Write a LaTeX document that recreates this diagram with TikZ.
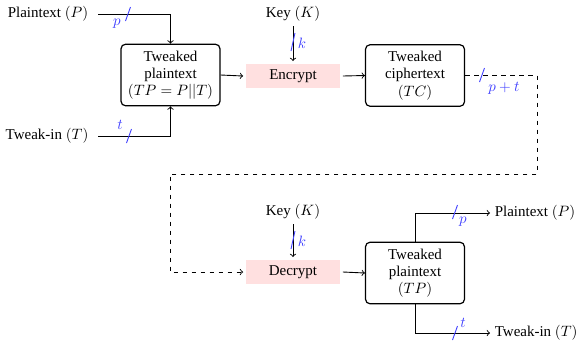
\documentclass[tikz,border=0pt]{standalone}
\usepackage{fontspec}
\setmainfont{Liberation Serif}
\begin{document}
\begin{tikzpicture}[x=0.6667pt,y=-0.6667pt,
  every node/.style={font=\fontsize{10}{11.5}\selectfont},
  conn/.style={semithick,->},
  dconn/.style={semithick,dashed,->},
  boxnode/.style={draw,thick,rounded corners=3pt,align=center,minimum width=66pt,minimum height=41pt,inner sep=1pt},
  opnode/.style={fill=red!12,minimum width=62.5pt,minimum height=16pt,inner sep=1pt,outer sep=2pt},
  lbl/.style={text=blue!75,inner sep=0pt},
  slashmark/.style={blue!75,semithick},
  txt/.style={inner sep=3pt}]
\useasboundingbox (0,0) rectangle (579,341);
% top half
\node[txt] (pin) at (48,14) {Plaintext $(P)$};
\node[txt] (tin) at (47,136) {Tweak-in $(T)$};
\node[boxnode] (b1) at (170.5,75) {Tweaked\\plaintext\\$(TP=P||T)$};
\node[opnode] (enc) at (293,76) {Encrypt};
\node[txt] (k1) at (293,14) {Key $(K)$};
\node[boxnode] (b2) at (415,75.5) {Tweaked\\ciphertext\\$(TC)$};
\coordinate (pstart) at (98,14);
\coordinate (tstart) at (98,136);
\draw[conn] (pstart) -| (b1.north);
\draw[conn] (tstart) -| (b1.south);
\draw[conn] (b1.east) -- (enc.west);
\draw[conn] (k1) -- (enc);
\draw[conn] (enc.east) -- (b2.west);
% bottom half
\node[opnode] (dec) at (293,272) {Decrypt};
\node[txt] (k2) at (293,212) {Key $(K)$};
\node[boxnode] (b3) at (415,273) {Tweaked\\plaintext\\$(TP)$};
\node[txt,anchor=west] (pout) at (490,213) {Plaintext $(P)$};
\node[txt,anchor=west] (tout) at (490,333) {Tweak-in $(T)$};
\coordinate (d1) at (537,174);
\coordinate (d2) at (170,174);
\draw[dconn] (b2.east) -| (d1) -- (d2) |- (dec.west);
\draw[conn] (k2) -- (dec);
\draw[conn] (dec.east) -- (b3.west);
\draw[conn] (b3.north) |- (pout.west);
\draw[conn] (b3.south) |- (tout.west);
% slashes
\foreach \x/\y/\n in {128/14/s1,129/136/s2,482/75/s3,455/212/s4,455/333/s5}
  \draw[slashmark] ([shift={(-2.5,7)}]\x,\y) -- ([shift={(2.5,-7)}]\x,\y);
\foreach \x/\y in {293/42,293/240}
  \draw[slashmark] ([shift={(-2,9)}]\x,\y) -- ([shift={(2,-9)}]\x,\y);
% labels
\node[lbl] (lp1) at (117,24) {$p$};
\node[lbl] (lt1) at (120,125) {$t$};
\node[lbl] (lk1) at (302,43) {$k$};
\node[lbl] (lpt) at (504,88) {$p+t$};
\node[lbl] (lk2) at (302,241) {$k$};
\node[lbl] (lp2) at (463,222) {$p$};
\node[lbl] (lt2) at (463,323) {$t$};
\end{tikzpicture}
\end{document}
